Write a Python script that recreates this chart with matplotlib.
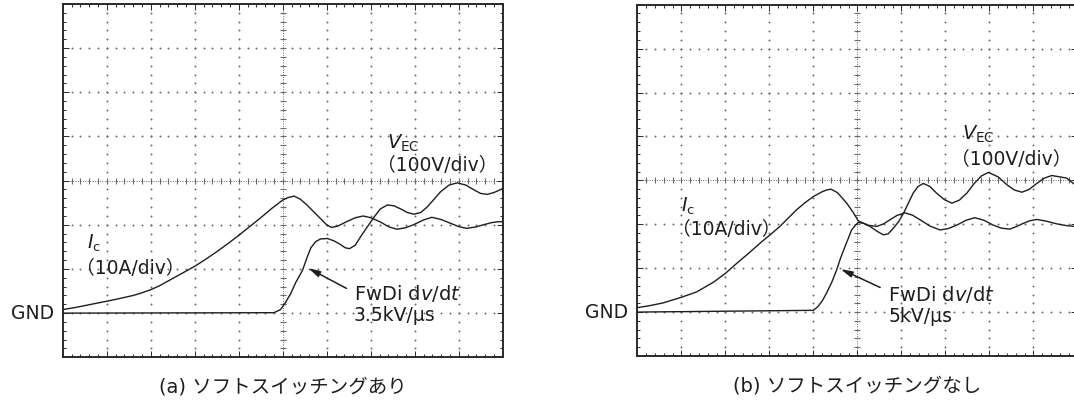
import matplotlib
matplotlib.use("Agg")
import matplotlib.pyplot as plt
import numpy as np

# ---------------- data (oscilloscope divisions; GND = 1 div) ----------------
# (a) soft switching
a_ic_x = [0, 0.3, 0.6, 0.9, 1.2, 1.6, 1.8, 2.0, 2.2, 2.4, 2.6, 2.8, 3.0, 3.25, 3.5,
          3.75, 4.0, 4.25, 4.5, 4.75, 5.0, 5.13, 5.26, 5.4, 5.55, 5.7, 5.85, 6.0,
          6.11, 6.25, 6.45, 6.65, 6.83, 7.0, 7.21, 7.4, 7.59, 7.78, 7.97, 8.2,
          8.39, 8.6, 8.8, 9.0, 9.18, 9.38, 9.56, 9.75, 9.9, 10.0]
a_ic_y = [1.08, 1.13, 1.19, 1.25, 1.31, 1.40, 1.46, 1.53, 1.62, 1.73, 1.84, 1.95,
          2.06, 2.22, 2.39, 2.57, 2.76, 2.96, 3.16, 3.37, 3.56, 3.62, 3.65, 3.58,
          3.45, 3.30, 3.15, 3.00, 2.94, 2.97, 3.07, 3.16, 3.20, 3.16, 3.07, 2.96,
          2.90, 2.93, 3.00, 3.11, 3.17, 3.12, 3.04, 2.96, 2.92, 2.95, 3.00, 3.05,
          3.07, 3.07]
a_vec_x = [0, 4.8, 4.95, 5.05, 5.18, 5.3, 5.45, 5.55, 5.64, 5.75, 5.86, 6.02, 6.18,
           6.32, 6.42, 6.52, 6.65, 6.77, 6.92, 7.08, 7.22, 7.38, 7.53, 7.68, 7.83,
           7.98, 8.14, 8.29, 8.44, 8.59, 8.78, 8.97, 9.16, 9.35, 9.5, 9.65, 9.8, 10.0]
a_vec_y = [1.0, 1.01, 1.08, 1.22, 1.44, 1.70, 1.97, 2.25, 2.48, 2.62, 2.68, 2.69,
           2.63, 2.55, 2.48, 2.46, 2.54, 2.73, 2.95, 3.18, 3.36, 3.45, 3.43, 3.36,
           3.28, 3.24, 3.28, 3.41, 3.58, 3.75, 3.90, 3.95, 3.90, 3.79, 3.71, 3.69,
           3.73, 3.82]

# (b) no soft switching
b_ic_x = [0, 0.3, 0.59, 1.01, 1.35, 1.73, 2.0, 2.26, 2.52, 2.79, 3.02, 3.24, 3.43,
          3.62, 3.81, 4.0, 4.2, 4.3, 4.4, 4.55, 4.76, 4.9, 5.02, 5.23, 5.44, 5.6,
          5.74, 5.9, 6.08, 6.25, 6.43, 6.65, 6.88, 7.06, 7.26, 7.47, 7.67, 7.88,
          8.09, 8.28, 8.47, 8.62, 8.77, 8.92, 9.08, 9.3, 9.53, 9.75, 9.95, 10.0]
b_ic_y = [1.10, 1.15, 1.21, 1.34, 1.46, 1.68, 1.88, 2.11, 2.33, 2.57, 2.76, 2.95,
          3.14, 3.33, 3.49, 3.63, 3.74, 3.78, 3.80, 3.72, 3.48, 3.28, 3.08, 2.98,
          2.95, 3.01, 3.10, 3.20, 3.26, 3.21, 3.10, 2.96, 2.87, 2.90, 2.98, 3.09,
          3.15, 3.09, 2.98, 2.91, 2.89, 2.95, 3.02, 3.08, 3.11, 3.07, 3.01, 2.97,
          2.95, 2.94]
b_vec_x = [0, 4.0, 4.1, 4.2, 4.3, 4.42, 4.53, 4.62, 4.72, 4.8, 4.87, 4.95, 5.02,
           5.15, 5.29, 5.45, 5.59, 5.7, 5.82, 5.94, 6.05, 6.16, 6.27, 6.38, 6.5,
           6.65, 6.8, 6.98, 7.15, 7.32, 7.49, 7.65, 7.82, 7.98, 8.2, 8.4, 8.57,
           8.74, 8.9, 9.08, 9.25, 9.42, 9.6, 9.76, 9.91, 10.0]
b_vec_y = [1.0, 1.04, 1.12, 1.25, 1.43, 1.68, 1.96, 2.23, 2.49, 2.69, 2.87, 2.97,
           3.04, 3.02, 2.95, 2.84, 2.76, 2.78, 2.91, 3.06, 3.25, 3.48, 3.71, 3.86,
           3.93, 3.86, 3.71, 3.56, 3.48, 3.55, 3.71, 3.92, 4.10, 4.18, 4.08, 3.90,
           3.78, 3.73, 3.79, 3.93, 4.05, 4.11, 4.08, 4.05, 3.93, 3.88]

captions = ["(a) ソフトスイッチングあり", "(b) ソフトスイッチングなし"]
rates = ["3.5kV/μs", "5kV/μs"]
ic_label = r"$I_{\mathrm{c}}$"
vec_label = r"$V_{\mathrm{EC}}$"
ic_scale = "（10A/div）"
vec_scale = "（100V/div）"
dvdt_label = r"FwDi d$v$/d$t$"

# ---------------- style ----------------
FAM = ["DejaVu Sans", "Noto Sans CJK JP"]
TRACE = "#1e1e1e"
GRID = "#6a6a6a"
FRAME = "#2a2a2a"
TXT = "#1e1e1e"

W, H = 1074, 403
fig = plt.figure(figsize=(W / 100, H / 100), dpi=100)
fig.patch.set_facecolor("white")

ax_a = fig.add_axes([62.7 / W, (H - 357.3) / H, 440 / W, 353.3 / H])
ax_b = fig.add_axes([637.3 / W, (H - 356.0) / H, 440 / W, 351.3 / H])


def graticule(ax):
    ax.set_xlim(0, 10)
    ax.set_ylim(0, 8)
    fx = np.arange(0, 10.001, 0.2)
    fy = np.arange(0, 8.001, 0.2)
    for gx in range(1, 10):
        if gx == 5:
            continue
        ax.plot(np.full_like(fy, gx), fy, ls="none", marker="o", ms=1.4,
                mew=0, color=GRID, zorder=1)
    for gy in range(1, 8):
        if gy == 4:
            continue
        ax.plot(fx, np.full_like(fx, gy), ls="none", marker="o", ms=1.4,
                mew=0, color=GRID, zorder=1)
    # centre cross-hair with fine ticks
    ax.plot([5, 5], [0, 8], ls=(0, (1, 1.5)), lw=0.7, color=GRID, zorder=1)
    ax.plot([0, 10], [4, 4], ls=(0, (1, 1.5)), lw=0.7, color=GRID, zorder=1)
    ax.plot(np.full_like(fy, 5), fy, ls="none", marker="_", ms=5, mew=0.8,
            color=GRID, zorder=1)
    ax.plot(fx, np.full_like(fx, 4), ls="none", marker="|", ms=5, mew=0.8,
            color=GRID, zorder=1)
    ax.set_xticks(np.arange(0, 10.01, 1))
    ax.set_yticks(np.arange(0, 8.01, 1))
    ax.set_xticks(fx, minor=True)
    ax.set_yticks(fy, minor=True)
    ax.tick_params(which="both", direction="in", top=True, right=True,
                   labelbottom=False, labelleft=False, color=FRAME, width=0.7)
    ax.tick_params(which="major", length=4)
    ax.tick_params(which="minor", length=2.5)
    for s in ax.spines.values():
        s.set_color(FRAME)
        s.set_linewidth(1.4)
    ax.set_facecolor("white")


panels = [
    (ax_a, a_ic_x, a_ic_y, a_vec_x, a_vec_y, captions[0], rates[0],
     dict(ic=(0.55, 2.45), ics=(1.53, 2.02), vec=(7.37, 4.72), vecs=(8.52, 4.35),
          dv=(6.62, 1.45), rate=(6.62, 0.95), arr_from=(6.45, 1.56), arr_to=(5.58, 2.02))),
    (ax_b, b_ic_x, b_ic_y, b_vec_x, b_vec_y, captions[1], rates[1],
     dict(ic=(1.0, 3.28), ics=(2.03, 2.89), vec=(7.38, 4.93), vecs=(8.51, 4.48),
          dv=(5.70, 1.41), rate=(5.70, 0.90), arr_from=(5.52, 1.56), arr_to=(4.62, 1.98))),
]

for ax, icx, icy, vx, vy, cap, rate, pos in panels:
    graticule(ax)
    ax.plot(icx, icy, color=TRACE, lw=1.0, zorder=3)
    ax.plot(vx, vy, color=TRACE, lw=1.0, zorder=3)

    ax.text(-0.2, 1.0, "GND", ha="right", va="center", fontsize=13.5,
            family=FAM, color=TXT, clip_on=False)
    ax.text(*pos["ic"], ic_label, ha="left", va="baseline", fontsize=13.5,
            color=TXT, zorder=4)
    ax.text(*pos["ics"], ic_scale, ha="center", va="center", fontsize=13.5,
            family=FAM, color=TXT, zorder=4)
    ax.text(*pos["vec"], vec_label, ha="left", va="baseline", fontsize=14,
            color=TXT, zorder=4)
    ax.text(*pos["vecs"], vec_scale, ha="center", va="center", fontsize=13.5,
            family=FAM, color=TXT, zorder=4)
    ax.text(*pos["dv"], dvdt_label, ha="left", va="center", fontsize=14,
            family=FAM, color=TXT, zorder=4)
    ax.text(*pos["rate"], rate, ha="left", va="center", fontsize=13.5,
            family=FAM, color=TXT, zorder=4)
    ax.annotate("", xy=pos["arr_to"], xytext=pos["arr_from"],
                arrowprops=dict(arrowstyle="-|>,head_length=0.7,head_width=0.18",
                                color=TRACE, lw=1.1, shrinkA=0, shrinkB=0),
                zorder=4)
    ax.text(5, -0.68, cap, ha="center", va="center", fontsize=14,
            family=FAM, color=TXT, clip_on=False)

fig.savefig("out.png", dpi=100, facecolor="white")
